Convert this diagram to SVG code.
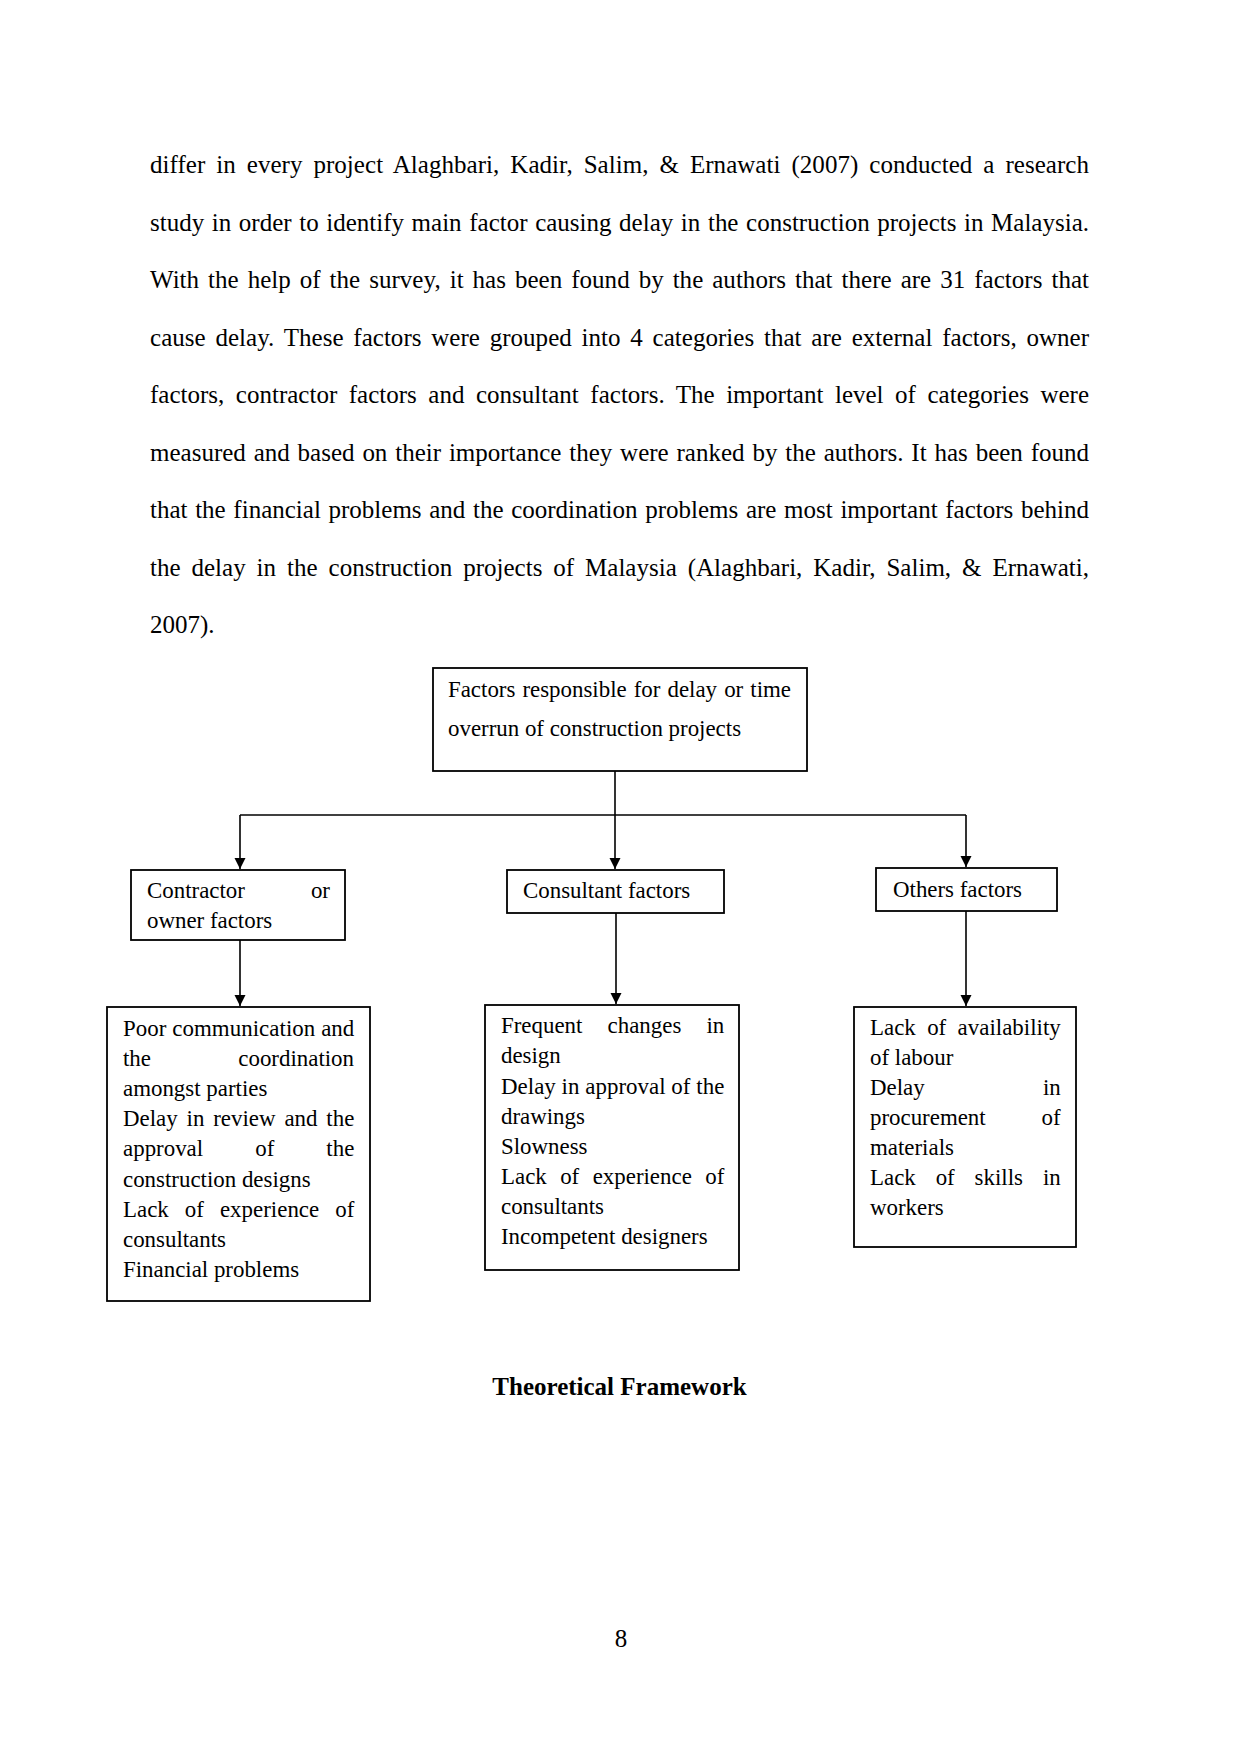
<svg xmlns="http://www.w3.org/2000/svg" width="1241" height="1754" viewBox="0 0 1241 1754">
<style>
.body{font-family:"Liberation Serif","Times New Roman",serif;font-size:25px;fill:#000}
.t{font-family:"Liberation Serif","Times New Roman",serif;font-size:22.9px;fill:#000}
.box{fill:#fff;stroke:#000;stroke-width:1.8}
.conn{stroke:#000;stroke-width:1.6;fill:none}
.title{font-family:"Liberation Serif","Times New Roman",serif;font-size:25px;font-weight:bold;fill:#000}
</style>
<defs>
<marker id="arr" viewBox="0 0 10 10" refX="10" refY="5" markerUnits="userSpaceOnUse" markerWidth="11" markerHeight="12" orient="auto">
<path d="M0,0 L10,5 L0,10 z" fill="#000"/>
</marker>
</defs>
<rect width="1241" height="1754" fill="#fff"/>
<g id="body-text" class="body">
<text x="150" y="173" word-spacing="4.7" textLength="939" lengthAdjust="spacing">differ in every project Alaghbari, Kadir, Salim, &amp; Ernawati (2007) conducted a research</text>
<text x="150" y="230.5" word-spacing="1.36" textLength="939" lengthAdjust="spacing">study in order to identify main factor causing delay in the construction projects in Malaysia.</text>
<text x="150" y="288" word-spacing="2.68" textLength="939" lengthAdjust="spacing">With the help of the survey, it has been found by the authors that there are 31 factors that</text>
<text x="150" y="345.5" word-spacing="3.5" textLength="939" lengthAdjust="spacing">cause delay. These factors were grouped into 4 categories that are external factors, owner</text>
<text x="150" y="403" word-spacing="5.27" textLength="939" lengthAdjust="spacing">factors, contractor factors and consultant factors. The important level of categories were</text>
<text x="150" y="460.5" word-spacing="1.6" textLength="939" lengthAdjust="spacing">measured and based on their importance they were ranked by the authors. It has been found</text>
<text x="150" y="518" word-spacing="1.4" textLength="939" lengthAdjust="spacing">that the financial problems and the coordination problems are most important factors behind</text>
<text x="150" y="575.5" word-spacing="4.67" textLength="939" lengthAdjust="spacing">the delay in the construction projects of Malaysia (Alaghbari, Kadir, Salim, &amp; Ernawati,</text>
<text x="150" y="633">2007).</text>
</g>
<g id="connectors">
<line class="conn" x1="615" y1="771" x2="615" y2="869" marker-end="url(#arr)"/>
<line class="conn" x1="240" y1="815" x2="966" y2="815"/>
<line class="conn" x1="240" y1="815" x2="240" y2="869" marker-end="url(#arr)"/>
<line class="conn" x1="966" y1="815" x2="966" y2="867" marker-end="url(#arr)"/>
<line class="conn" x1="240" y1="940" x2="240" y2="1006" marker-end="url(#arr)"/>
<line class="conn" x1="616" y1="913" x2="616" y2="1004" marker-end="url(#arr)"/>
<line class="conn" x1="966" y1="911" x2="966" y2="1006" marker-end="url(#arr)"/>
</g>
<g id="node-root">
<rect class="box" x="433" y="668" width="374" height="103"/>
<text class="t" x="448" y="697" word-spacing="1.4" textLength="343" lengthAdjust="spacing">Factors responsible for delay or time</text>
<text class="t" x="448" y="735.5">overrun of construction projects</text>
</g>
<g id="node-contractor">
<rect class="box" x="131" y="870" width="214" height="70"/>
<text class="t" x="147" y="898">Contractor</text>
<text class="t" x="330" y="898" text-anchor="end">or</text>
<text class="t" x="147" y="928">owner factors</text>
</g>
<g id="node-consultant">
<rect class="box" x="507" y="870" width="217" height="43"/>
<text class="t" x="523" y="898">Consultant factors</text>
</g>
<g id="node-others">
<rect class="box" x="876" y="868" width="181" height="43"/>
<text class="t" x="893" y="896.5">Others factors</text>
</g>
<g id="node-contractor-items">
<rect class="box" x="107" y="1007" width="263" height="294"/>
<text class="t" x="123" y="1035.7" textLength="231.3" lengthAdjust="spacing">Poor communication and</text>
<text class="t" x="123" y="1066">the</text>
<text class="t" x="354" y="1066" text-anchor="end">coordination</text>
<text class="t" x="123" y="1096">amongst parties</text>
<text class="t" x="123" y="1126" word-spacing="3.1" textLength="231.3" lengthAdjust="spacing">Delay in review and the</text>
<text class="t" x="123" y="1156" word-spacing="46.3" textLength="231.3" lengthAdjust="spacing">approval of the</text>
<text class="t" x="123" y="1186.7">construction designs</text>
<text class="t" x="123" y="1216.7" word-spacing="10.3" textLength="231.3" lengthAdjust="spacing">Lack of experience of</text>
<text class="t" x="123" y="1246.7">consultants</text>
<text class="t" x="123" y="1276.7">Financial problems</text>
</g>
<g id="node-consultant-items">
<rect class="box" x="485" y="1005" width="254" height="265"/>
<text class="t" x="501" y="1033" word-spacing="19.4" textLength="223.3" lengthAdjust="spacing">Frequent changes in</text>
<text class="t" x="501" y="1063">design</text>
<text class="t" x="501" y="1093.5" textLength="223.3" lengthAdjust="spacing">Delay in approval of the</text>
<text class="t" x="501" y="1123.5">drawings</text>
<text class="t" x="501" y="1153.5">Slowness</text>
<text class="t" x="501" y="1184" word-spacing="7.7" textLength="223.3" lengthAdjust="spacing">Lack of experience of</text>
<text class="t" x="501" y="1214">consultants</text>
<text class="t" x="501" y="1244">Incompetent designers</text>
</g>
<g id="node-others-items">
<rect class="box" x="854" y="1007" width="222" height="240"/>
<text class="t" x="870" y="1035" word-spacing="5.66" textLength="190.7" lengthAdjust="spacing">Lack of availability</text>
<text class="t" x="870" y="1065">of labour</text>
<text class="t" x="870" y="1095">Delay</text>
<text class="t" x="1060.7" y="1095" text-anchor="end">in</text>
<text class="t" x="870" y="1125">procurement</text>
<text class="t" x="1060.7" y="1125" text-anchor="end">of</text>
<text class="t" x="870" y="1155">materials</text>
<text class="t" x="870" y="1185" word-spacing="14.2" textLength="190.7" lengthAdjust="spacing">Lack of skills in</text>
<text class="t" x="870" y="1215">workers</text>
</g>
<text class="title" x="619.5" y="1395" text-anchor="middle">Theoretical Framework</text>
<text class="body" x="621" y="1647" text-anchor="middle">8</text>
</svg>
